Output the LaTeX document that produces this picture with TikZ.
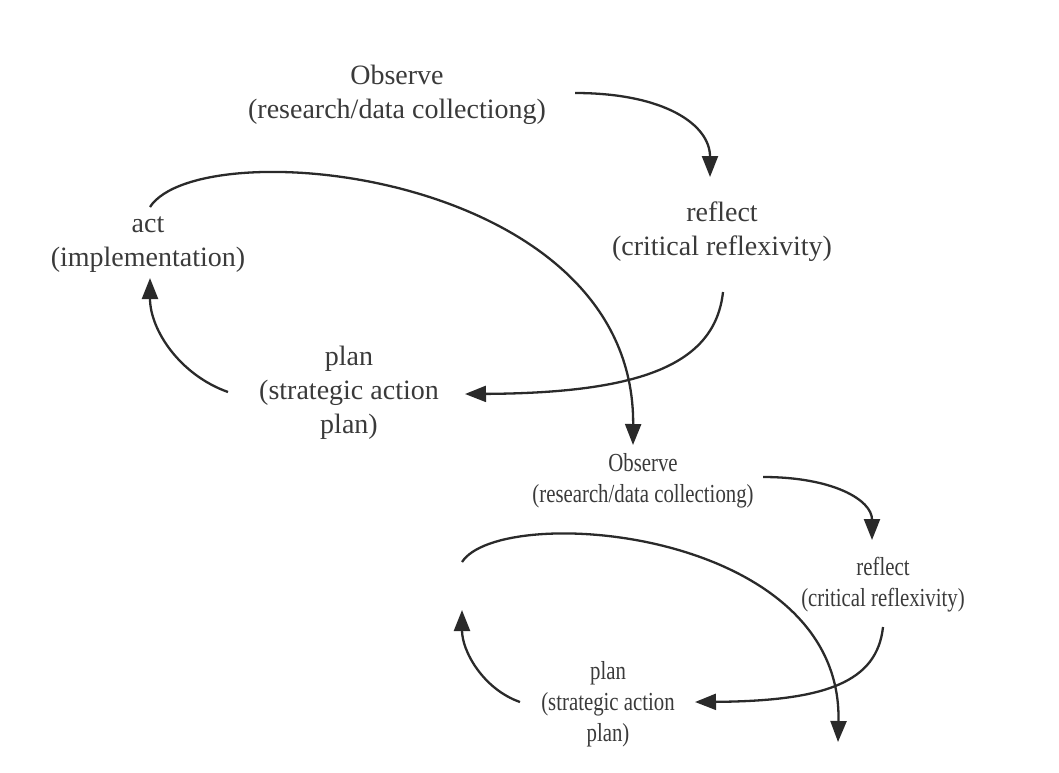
\documentclass[tikz,border=0pt]{standalone}
\usepackage{fontspec}
\setmainfont{Liberation Serif}
\newfontfamily\narrowserif[FakeStretch=0.8]{Liberation Serif}
\usetikzlibrary{arrows.meta}
\definecolor{txtgray}{HTML}{3A3A3A}
\definecolor{linegray}{HTML}{2A2A2A}

\begin{document}
\begin{tikzpicture}[x=0.5pt,y=-0.5pt,
    stepA/.style={align=center,text=txtgray,inner sep=0pt,
      font=\fontsize{14}{17}\selectfont},
    stepB/.style={align=center,text=txtgray,inner sep=0pt,
      font=\narrowserif\fontsize{13}{15.5}\selectfont},
    flow/.style={line width=1.15pt,draw=linegray,
      -{Triangle[length=10.5pt,width=8pt]}}]

    \useasboundingbox (0,0) rectangle (1059,772);

    % First cycle
    \node[stepA] (obs1) at (397,95) {Observe\\(research/data collectiong)};
    \node[stepA] (refl1) at (722,232) {reflect\\(critical reflexivity)};
    \node[stepA] (act1) at (148,245) {act\\(implementation)};
    \node[stepA] (plan1) at (349,393) {plan\\(strategic action\\plan)};

    % Second cycle
    \node[stepB] (obs2) at (643,481) {Observe\\(research/data collectiong)};
    \node[stepB] (refl2) at (883,585) {reflect\\(critical reflexivity)};
    \node[stepB] (plan2) at (608,704) {plan\\(strategic action\\plan)};

    % Set coordinates
    \coordinate (o1out) at (575,93);   \coordinate (r1in) at (710,177);
    \coordinate (r1out) at (723,292);  \coordinate (p1in) at (465,394);
    \coordinate (p1out) at (228,392);  \coordinate (a1in) at (150,278);
    \coordinate (a1out) at (150,207);  \coordinate (o2in) at (633,445);
    \coordinate (o2out) at (763,477);  \coordinate (r2in) at (872,540);
    \coordinate (r2out) at (883,627);  \coordinate (p2in) at (695,702);
    \coordinate (p2out) at (520,702);  \coordinate (a2in) at (462,610);
    \coordinate (a2out) at (462,562);  \coordinate (o3in) at (838,742);

    % Draw lines
    \draw[flow] (o1out) .. controls (665,93) and (710,125) .. (r1in);
    \draw[flow] (r1out) .. controls (715,365) and (640,393) .. (p1in);
    \draw[flow] (p1out) .. controls (180,375) and (150,330) .. (a1in);
    \draw[flow] (a1out) .. controls (200,130) and (635,170) .. (o2in);

    \draw[flow] (o2out) .. controls (833,477) and (872,500) .. (r2in);
    \draw[flow] (r2out) .. controls (877,682) and (826,701) .. (p2in);
    \draw[flow] (p2out) .. controls (483,689) and (462,651) .. (a2in);
    \draw[flow] (a2out) .. controls (501,502) and (843,528) .. (o3in);
  \end{tikzpicture}
\end{document}
